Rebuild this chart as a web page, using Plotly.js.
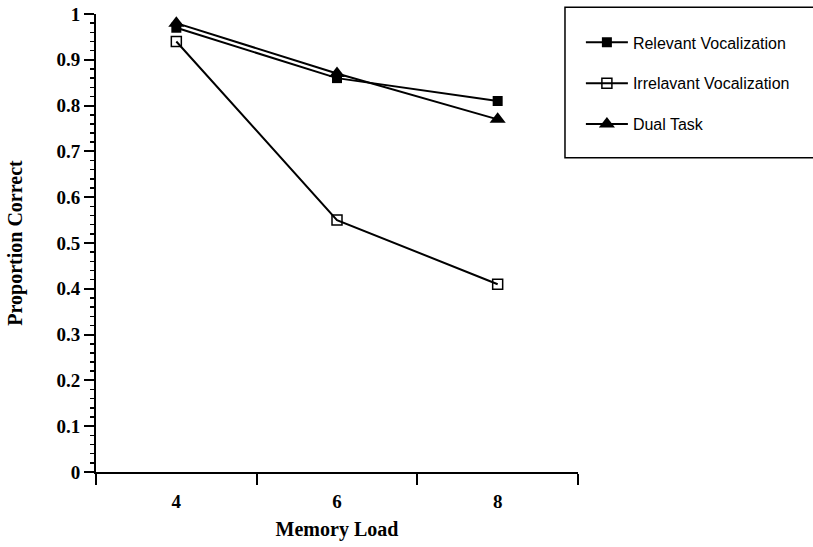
<!DOCTYPE html>
<html>
<head>
<meta charset="utf-8">
<script src="https://cdn.plot.ly/plotly-3.0.1.min.js"></script>
<style>html,body{margin:0;padding:0;background:#fff;}#chart{width:813px;height:547px;}</style>
</head>
<body>
<div id="chart"></div>
<script>
const memoryLoad = [4, 6, 8];
const relevantVocalization = [0.97, 0.86, 0.81];
const irrelavantVocalization = [0.94, 0.55, 0.41];
const dualTask = [0.98, 0.87, 0.77];
const xTickLabels = ['4', '6', '8'];
const seriesNames = ['Relevant Vocalization', 'Irrelavant Vocalization', 'Dual Task'];

const serif = '"Liberation Serif", "Times New Roman", serif';
const sans = '"Liberation Sans", Arial, sans-serif';

const traces = [
  {x: memoryLoad, y: relevantVocalization, name: seriesNames[0], legendgroup: 'a',
   mode: 'lines+markers', line: {color: '#000', width: 2},
   marker: {symbol: 'square', size: 10, color: '#000'}},
  {x: memoryLoad, y: irrelavantVocalization, name: seriesNames[1], legendgroup: 'b',
   mode: 'lines+markers', line: {color: '#000', width: 2},
   marker: {symbol: 'square-open', size: 10, color: '#000', line: {color: '#000', width: 1.5}}},
  {x: memoryLoad, y: dualTask, name: seriesNames[2], legendgroup: 'c',
   mode: 'lines+markers', line: {color: '#000', width: 2},
   marker: {symbol: 'triangle-up', size: 14, color: '#000'}}
];

const layout = {
  width: 813, height: 547,
  margin: {l: 96, r: 235, t: 14, b: 75},
  paper_bgcolor: '#fff', plot_bgcolor: '#fff',
  showlegend: true,
  legend: {x: 1.006, xanchor: 'left', y: 0.975, yanchor: 'top',
    traceorder: 'grouped', tracegroupgap: 17, itemwidth: 42,
    font: {family: sans, size: 16, color: '#000'},
    bgcolor: 'rgba(0,0,0,0)', borderwidth: 0},
  xaxis: {
    range: [3, 9], tickmode: 'array', tickvals: memoryLoad, ticktext: xTickLabels,
    ticks: 'outside', ticklen: 11, tickcolor: 'rgba(0,0,0,0)',
    minor: {tickmode: 'array', tickvals: [3, 5, 7, 9], ticks: 'outside', ticklen: 11, tickwidth: 2, tickcolor: '#000'},
    showline: true, linecolor: '#000', linewidth: 2, showgrid: false, zeroline: false,
    tickfont: {family: serif, size: 19, color: '#000', weight: 'bold'},
    title: {text: '<b>Memory Load</b>', font: {family: serif, size: 20, color: '#000'}, standoff: 11}
  },
  yaxis: {
    range: [0, 1], dtick: 0.1, tick0: 0,
    ticks: 'outside', ticklen: 10, tickwidth: 2, tickcolor: '#000',
    minor: {dtick: 0.02, ticks: 'outside', ticklen: 4, tickwidth: 1.5, tickcolor: '#000'},
    showline: true, linecolor: '#000', linewidth: 2, showgrid: false, zeroline: false,
    tickfont: {family: serif, size: 19, color: '#000', weight: 'bold'},
    title: {text: '<b>Proportion Correct</b>', font: {family: serif, size: 20, color: '#000'}, standoff: 28}
  },
  shapes: [
    {type: 'rect', xref: 'paper', yref: 'paper', x0: 0.973, x1: 1.5, y0: 0.686, y1: 1.015,
     line: {color: '#000', width: 1.5}, fillcolor: 'rgba(0,0,0,0)'}
  ]
};

Plotly.newPlot('chart', traces, layout, {displayModeBar: false, staticPlot: true});
</script>
</body>
</html>
